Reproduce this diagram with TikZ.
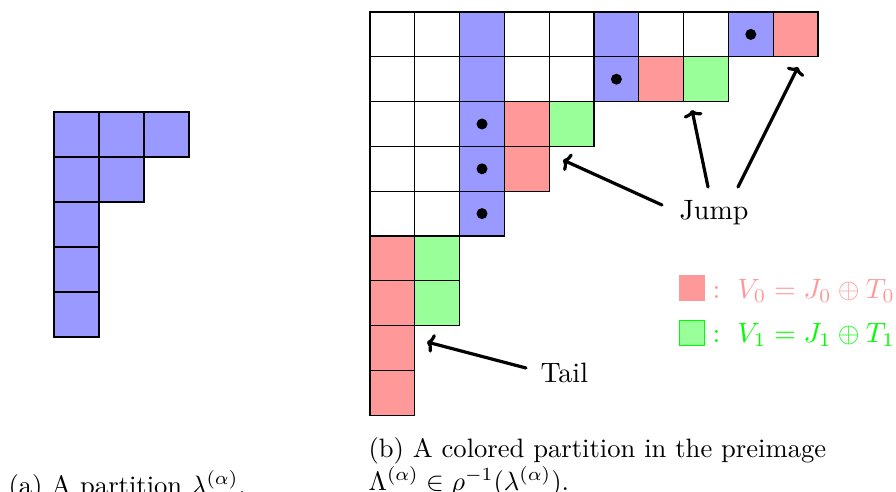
\documentclass[tikz,border=0pt]{standalone}
\usepackage{amsmath,amssymb}
\usetikzlibrary{arrows.meta}
\begin{document}
\begin{tikzpicture}[x=1pt,y=-1pt,
  cellbox/.style={draw=black,line width=1.3pt},
  bigtxt/.style={scale=2.8,transform shape,inner sep=0pt,anchor=base west},
  captxt/.style={scale=2.66,transform shape,inner sep=0pt,anchor=base west},
  ptr/.style={-{To[length=7pt,width=19pt]},line width=3.2pt,line cap=round}]
\useasboundingbox (0,0) rectangle (896,492);
% left partition
\foreach \c/\r in {0/0,1/0,2/0,0/1,1/1,0/2,0/3,0/4}
  \filldraw[cellbox,fill=blue!40] ({54+45*\c},{112+45*\r}) rectangle +(45,45);
% right partition
\foreach \c/\r/\col in {
  0/0/white,1/0/white,2/0/blue!40,3/0/white,4/0/white,5/0/blue!40,6/0/white,7/0/white,8/0/blue!40,9/0/red!40,
  0/1/white,1/1/white,2/1/blue!40,3/1/white,4/1/white,5/1/blue!40,6/1/red!40,7/1/green!40,
  0/2/white,1/2/white,2/2/blue!40,3/2/red!40,4/2/green!40,
  0/3/white,1/3/white,2/3/blue!40,3/3/red!40,
  0/4/white,1/4/white,2/4/blue!40,
  0/5/red!40,1/5/green!40,
  0/6/red!40,1/6/green!40,
  0/7/red!40,
  0/8/red!40}
  \filldraw[cellbox,fill=\col] ({370+44.8*\c},{12+44.8*\r}) rectangle +(44.8,44.8);
\foreach \c/\r in {8/0,5/1,2/2,2/3,2/4}
  \fill ({370+44.8*\c+22.4},{12+44.8*\r+22.4}) circle[radius=5.5pt];
% labels
\node[bigtxt] (jump) at (679,219) {Jump};
\node[bigtxt] (tail) at (540,382) {Tail};
\coordinate (j1s) at (662,205); \coordinate (j1e) at (563,160);
\coordinate (j2s) at (708,187); \coordinate (j2e) at (692,110);
\coordinate (j3s) at (738,187); \coordinate (j3e) at (798,67);
\coordinate (ts) at (526,368);  \coordinate (te) at (427,342);
\draw[ptr] (j1s) -- (j1e);
\draw[ptr] (j2s) -- (j2e);
\draw[ptr] (j3s) -- (j3e);
\draw[ptr] (ts) -- (te);
% legend
\filldraw[draw=red!40,fill=red!40,line width=1pt] (679,275) rectangle (704,300);
\filldraw[draw=green,fill=green!40,line width=1pt] (679,320) rectangle (704,345);
\node[bigtxt,text=red!40] (leg0) at (712,298) {$:\ V_0=J_0\oplus T_0$};
\node[bigtxt,text=green] (leg1) at (712,342) {$:\ V_1=J_1\oplus T_1$};
% captions
\node[captxt] (capa) at (8,494) {(a) A partition $\lambda^{(\alpha)}$.};
\node[captxt] (capb1) at (368,457) {(b) A colored partition in the preimage};
\node[captxt] (capb2) at (368,490) {$\Lambda^{(\alpha)}\in\rho^{-1}(\lambda^{(\alpha)})$.};
\end{tikzpicture}
\end{document}
